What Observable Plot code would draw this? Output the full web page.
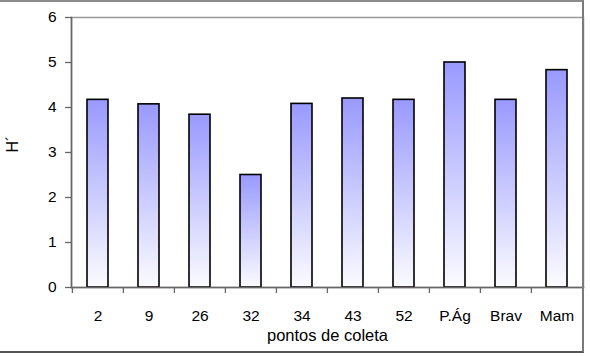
<!DOCTYPE html>
<html>
<head>
<meta charset="utf-8">
<script src="https://cdn.jsdelivr.net/npm/d3@7"></script>
<script src="https://cdn.jsdelivr.net/npm/@observablehq/plot@0.6"></script>
<style>
  html, body { margin: 0; padding: 0; background: #fff; }
  #wrap { position: relative; width: 590px; height: 356px; }
  #border { position: absolute; left: 0; top: 0; width: 582px; height: 349px;
            border-top: 2px solid #8c8c8c; border-right: 2px solid #7a7a7a; border-bottom: 2px solid #555;
            pointer-events: none; }
</style>
</head>
<body>
<div id="wrap"><div id="border"></div></div>
<script>
const categories = ["2", "9", "26", "32", "34", "43", "52", "P.Ág", "Brav", "Mam"];
const values = [4.17, 4.07, 3.84, 2.50, 4.08, 4.20, 4.17, 5.00, 4.17, 4.83];
const yTicks = [0, 1, 2, 3, 4, 5, 6];
const xTitle = "pontos de coleta";
const yTitle = "H´";

const data = categories.map((c, i) => ({cat: c, value: values[i]}));

const W = 590, H = 356, mL = 71, mR = 7, mT = 17, mB = 69;
const step = (W - mL - mR) / categories.length;
const font = "'Liberation Sans', Arial, sans-serif";

const chart = Plot.plot({
  width: W,
  height: H,
  marginLeft: mL,
  marginRight: mR,
  marginTop: mT,
  marginBottom: mB,
  style: {fontFamily: font, background: "transparent", color: "#000"},
  x: {type: "band", domain: categories, paddingInner: 0.59, paddingOuter: 0.295, axis: null},
  y: {domain: [0, 6], axis: null},
  marks: [
    Plot.frame({stroke: "#999", strokeWidth: 1.5}),
    Plot.barY(data, {x: "cat", y: "value", fill: "url(#barGrad)", stroke: "#000", strokeWidth: 1.6}),
    Plot.frame({anchor: "left", stroke: "#666", strokeWidth: 1.5}),
    Plot.frame({anchor: "bottom", stroke: "#666", strokeWidth: 1.5}),
    Plot.axisY({ticks: yTicks, tickFormat: d3.format("d"), tickSize: 6, tickPadding: 9, fontSize: 15.5, stroke: "#666", strokeWidth: 1.3, label: null}),
    Plot.axisX({ticks: categories, tickSize: 6, tickFormat: () => "", dx: -step / 2, stroke: "#666", strokeWidth: 1.3, label: null}),
    Plot.axisX({ticks: categories.slice(-1), tickSize: 6, tickFormat: () => "", dx: step / 2, stroke: "#666", strokeWidth: 1.3, label: null}),
    Plot.axisX({ticks: categories, tickSize: 0, tickPadding: 22, fontSize: 15.5, label: null}),
    Plot.text([xTitle], {frameAnchor: "bottom", lineAnchor: "top", dy: 42, fontSize: 16.5, fill: "#000"}),
    Plot.text([yTitle], {frameAnchor: "left", rotate: -90, dx: -59, fontSize: 16, fill: "#000"})
  ]
});

const defs = d3.select(chart).insert("defs", ":first-child");
const grad = defs.append("linearGradient")
  .attr("id", "barGrad").attr("x1", 0).attr("y1", 0).attr("x2", 0).attr("y2", 1);
grad.append("stop").attr("offset", "0%").attr("stop-color", "#9999ff");
grad.append("stop").attr("offset", "100%").attr("stop-color", "#fbfbff");

document.getElementById("wrap").insertBefore(chart, document.getElementById("border"));
chart.style.position = "absolute";
chart.style.left = "0";
chart.style.top = "0";
</script>
</body>
</html>
